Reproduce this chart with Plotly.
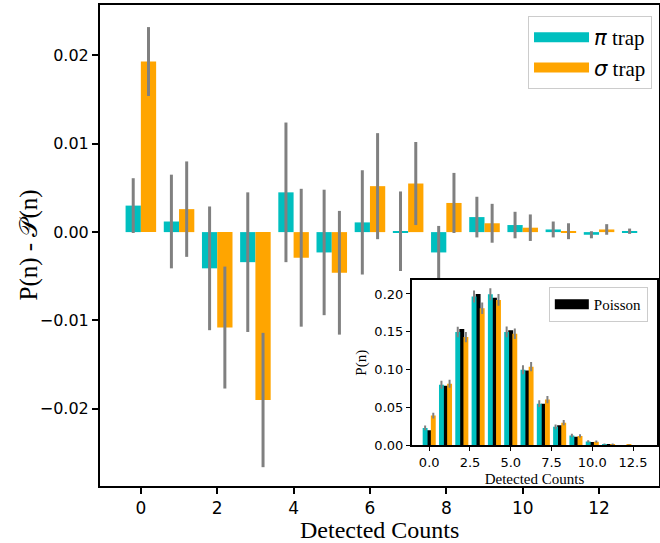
import numpy as np
import plotly.graph_objects as go

# ---------------- data ----------------
counts = list(range(14))
diff_pi = [0.0030, 0.0012, -0.0041, -0.0034, 0.0045, -0.0023, 0.0011, 0.0001,
           -0.0023, 0.0017, 0.0008, 0.0003, -0.0003, 0.0001]
err_pi = [0.0031, 0.0053, 0.0070, 0.0079, 0.0079, 0.0071, 0.0059, 0.0045,
          0.0030, 0.0023, 0.0015, 0.0009, 0.0004, 0.0003]
counts_sigma = list(range(13))
diff_sigma = [0.0193, 0.0026, -0.0108, -0.0190, -0.0029, -0.0046, 0.0052, 0.0055,
              0.0033, 0.0010, 0.0005, 0.0001, 0.0003]
err_sigma = [0.0039, 0.0054, 0.0069, 0.0076, 0.0078, 0.0070, 0.0060, 0.0047,
             0.0034, 0.0022, 0.0015, 0.0009, 0.0006]

# inset: probability distributions
p_poisson = [0.0202, 0.0789, 0.1539, 0.2001, 0.1951, 0.1522, 0.0989, 0.0551,
             0.0269, 0.0116, 0.0045, 0.0016, 0.0005, 0.0002]
p_pi = [0.0232, 0.0801, 0.1498, 0.1967, 0.1996, 0.1499, 0.1000, 0.0552,
        0.0246, 0.0133, 0.0053, 0.0019, 0.0002, 0.0003]
p_sigma = [0.0395, 0.0815, 0.1431, 0.1811, 0.1922, 0.1476, 0.1041, 0.0606,
           0.0302, 0.0126, 0.0050, 0.0017, 0.0008]

main_xticks = [0, 2, 4, 6, 8, 10, 12]
main_yticks = [-0.02, -0.01, 0.0, 0.01, 0.02]
inset_xticks = [0.0, 2.5, 5.0, 7.5, 10.0, 12.5]
inset_yticks = [0.0, 0.05, 0.10, 0.15, 0.20]

TEAL = "#00BFBF"
ORANGE = "#FFA500"
GRAY = "#808080"
SERIF = "Liberation Serif"
SANS = "DejaVu Sans"

c = np.array(counts, dtype=float)
cs = np.array(counts_sigma, dtype=float)

fig = go.Figure()

# ---------------- main bars ----------------
fig.add_trace(go.Bar(x=c - 0.2, y=diff_pi, width=0.4, marker=dict(color=TEAL, line=dict(width=0)),
                     error_y=dict(type="data", array=err_pi, color=GRAY, thickness=3, width=0),
                     showlegend=False, xaxis="x", yaxis="y"))
fig.add_trace(go.Bar(x=cs + 0.2, y=diff_sigma, width=0.4, marker=dict(color=ORANGE, line=dict(width=0)),
                     error_y=dict(type="data", array=err_sigma, color=GRAY, thickness=3, width=0),
                     showlegend=False, xaxis="x", yaxis="y"))

# legend proxies (wide swatches like the reference)
fig.add_trace(go.Scatter(x=[None], y=[None], mode="lines", line=dict(color=TEAL, width=16),
                         name='<span style="font-family:DejaVu Sans"><i>π</i></span> trap',
                         legend="legend", xaxis="x", yaxis="y"))
fig.add_trace(go.Scatter(x=[None], y=[None], mode="lines", line=dict(color=ORANGE, width=16),
                         name='<span style="font-family:DejaVu Sans"><i>σ</i></span> trap',
                         legend="legend", xaxis="x", yaxis="y"))

# ---------------- inset bars ----------------
fig.add_trace(go.Bar(x=c, y=p_poisson, width=0.3, marker=dict(color="black", line=dict(width=0)),
                     showlegend=False, xaxis="x2", yaxis="y2"))
fig.add_trace(go.Bar(x=c - 0.25, y=p_pi, width=0.3, marker=dict(color=TEAL, line=dict(width=0)),
                     error_y=dict(type="data", array=err_pi, color=GRAY, thickness=2, width=0),
                     showlegend=False, xaxis="x2", yaxis="y2"))
fig.add_trace(go.Bar(x=cs + 0.25, y=p_sigma, width=0.3, marker=dict(color=ORANGE, line=dict(width=0)),
                     error_y=dict(type="data", array=err_sigma, color=GRAY, thickness=2, width=0),
                     showlegend=False, xaxis="x2", yaxis="y2"))
fig.add_trace(go.Scatter(x=[None], y=[None], mode="lines", line=dict(color="black", width=11),
                         name="Poisson", legend="legend2", xaxis="x2", yaxis="y2"))

axis_common = dict(showgrid=False, zeroline=False, showline=True, linecolor="black",
                   mirror=True, ticks="outside", tickcolor="black", automargin=False)

fig.update_layout(
    width=660, height=543,
    margin=dict(l=100, r=1, t=5, b=57, autoexpand=False),
    paper_bgcolor="white", plot_bgcolor="white",
    barmode="overlay",
    xaxis=dict(**axis_common, domain=[0, 1], range=[-1.07, 13.57], tickvals=main_xticks,
               linewidth=2, ticklen=6, tickwidth=1.5,
               tickfont=dict(family=SANS, size=17, color="black")),
    yaxis=dict(**axis_common, domain=[0, 1], range=[-0.02873, 0.0257], tickvals=main_yticks,
               tickformat=".2f", linewidth=2, ticklen=6, tickwidth=1.5,
               tickfont=dict(family=SANS, size=16, color="black")),
    xaxis2=dict(**axis_common, domain=[0.558, 0.9964], anchor="y2", range=[-1.06, 13.97],
                tickvals=inset_xticks, tickformat=".1f", linewidth=2, ticklen=4, tickwidth=1.2,
                tickfont=dict(family=SANS, size=13, color="black"),
                title=dict(text="Detected Counts", font=dict(family=SERIF, size=15, color="black"), standoff=4)),
    yaxis2=dict(**axis_common, domain=[0.0842, 0.4283], anchor="x2", range=[0, 0.2185],
                tickvals=inset_yticks, tickformat=".2f", linewidth=2, ticklen=4, tickwidth=1.2,
                tickfont=dict(family=SANS, size=13, color="black"),
                title=dict(text="P(n)", font=dict(family=SERIF, size=15, color="black"), standoff=4)),
    legend=dict(x=0.9875, y=0.977, xanchor="right", yanchor="top",
                font=dict(family=SERIF, size=21, color="black"),
                bgcolor="white", bordercolor="#cccccc", borderwidth=1, itemwidth=55),
    legend2=dict(x=0.980, y=0.4137, xanchor="right", yanchor="top",
                 font=dict(family=SERIF, size=15, color="black"),
                 bgcolor="white", bordercolor="#cccccc", borderwidth=1, itemwidth=34),
    annotations=[
        dict(text="P(n) - 𝒫(n)", textangle=-90, showarrow=False,
             xref="paper", yref="paper", x=(28 - 100) / 559, y=0.5,
             xanchor="center", yanchor="middle",
             font=dict(family=SERIF, size=25, color="black")),
        dict(text="Detected Counts", showarrow=False,
             xref="paper", yref="paper", x=0.5, y=-(530 - 486) / 481,
             xanchor="center", yanchor="middle",
             font=dict(family=SERIF, size=24, color="black")),
    ],
)

fig.write_html("out.html", config={"displayModeBar": False},
               post_script="document.body.style.margin='0';document.body.style.padding='0';")
